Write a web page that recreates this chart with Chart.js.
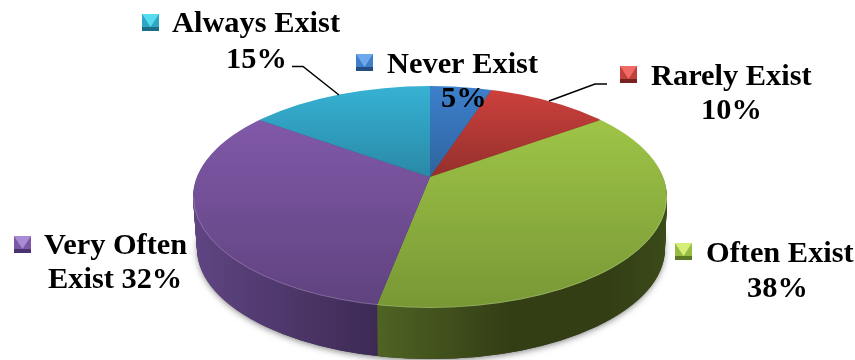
<!DOCTYPE html>
<html>
<head>
<meta charset="utf-8">
<script src="https://cdn.jsdelivr.net/npm/chart.js@4"></script>
<style>
html, body { margin: 0; background: #fff; }
canvas { display: block; }
</style>
</head>
<body>
<canvas id="pie" width="855" height="360"></canvas>
<script>
const categories = ['Never Exist', 'Rarely Exist', 'Often Exist', 'Very Often Exist', 'Always Exist'];
const values = [5, 10, 38, 32, 15];

// top face colours: [light, dark, y of light, y of dark]
const topShades = [
    ['#3d7fcb', '#2f65a1', 88, 172],
    ['#cb403c', '#95302c', 92, 176],
    ['#9ec447', '#789835', 122, 306],
    ['#8059a8', '#60427f', 120, 305],
    ['#36b1d3', '#2a8ba8', 88, 172]
];
// side wall colours, left to right
const wallShades = [
    ['#24507f', '#1c3f66'],
    ['#752622', '#5c1e1a'],
    ['#4f6323', '#333e15', '#3b4b19'],
    ['#5f4582', '#3d2a54'],
    ['#1f6a80', '#185466']
];
const wallRange = [[430, 491], [491, 668], [378, 668], [193, 378], [260, 430]];
const markerColors = [
    ['#6fa8ea', '#3f7fc8', '#234d80'],
    ['#ee6b66', '#c0403c', '#78211e'],
    ['#d4ee78', '#97bb45', '#5c7826'],
    ['#a98ad4', '#7b58a6', '#4b3270'],
    ['#55dcee', '#2fa6c4', '#1a6f86']
];

const cx = 430, apexY = 177, rimY = 197, rimRx = 237, rimRy = 111, squash = 0.46, depth = 52;

function faceTransform(ctx, arc, dy) {
    ctx.translate(cx, apexY + dy);
    ctx.scale(1, squash);
    ctx.translate(-arc.x, -arc.y);
}

const pie3d = {
    id: 'pie3d',
    beforeDatasetsDraw(chart) {
        const ctx = chart.ctx;
        const arcs = chart.getDatasetMeta(0).data;
        const base = arcs.map(a => a.options);

        // soft shadow under the wall
        ctx.save();
        ctx.shadowColor = 'rgba(0,0,0,0.55)';
        ctx.shadowBlur = 7;
        ctx.shadowOffsetY = 1;
        ctx.fillStyle = '#333';
        ctx.beginPath();
        ctx.ellipse(cx + 1, rimY + depth, rimRx - 4, rimRy - 1, 0, 0, Math.PI * 2);
        ctx.fill();
        ctx.restore();

        // side wall, stacked from the bottom up
        const wallFills = wallShades.map((w, i) => {
            const g = ctx.createLinearGradient(wallRange[i][0], 0, wallRange[i][1], 0);
            if (w.length === 3) {
                g.addColorStop(0, w[0]);
                g.addColorStop(0.45, w[1]);
                g.addColorStop(0.8, w[1]);
                g.addColorStop(1, w[2]);
            } else {
                g.addColorStop(0, w[0]);
                g.addColorStop(1, w[1]);
            }
            return g;
        });
        for (let d = depth; d >= 1; d--) {
            const k = d / depth;
            ctx.save();
            ctx.beginPath();
            ctx.ellipse(cx + k, rimY + d, rimRx - 3 * k, rimRy - k, 0, 0, Math.PI * 2);
            ctx.clip();
            arcs.forEach((arc, i) => {
                faceTransformDraw(ctx, arc, d, base[i], wallFills[i]);
            });
            ctx.restore();
        }

        // top face
        ctx.save();
        ctx.beginPath();
        ctx.ellipse(cx, rimY, rimRx, rimRy, 0, 0, Math.PI * 2);
        ctx.clip();
        arcs.forEach((arc, i) => {
            const s = topShades[i];
            const g = ctx.createLinearGradient(0, arc.y + (s[2] - apexY) / squash, 0, arc.y + (s[3] - apexY) / squash);
            g.addColorStop(0, s[0]);
            g.addColorStop(1, s[1]);
            faceTransformDraw(ctx, arc, 0, base[i], g);
        });
        ctx.restore();

        // light edge along the front rim
        ctx.save();
        ctx.strokeStyle = 'rgba(255,255,255,0.2)';
        ctx.lineWidth = 1;
        ctx.beginPath();
        ctx.ellipse(cx, rimY, rimRx - 0.5, rimRy - 0.5, 0, 0, Math.PI);
        ctx.stroke();
        ctx.restore();

        arcs.forEach((arc, i) => { arc.options = base[i]; });
        return false;
    },
    afterDraw(chart) {
        const ctx = chart.ctx;
        // leader lines
        ctx.save();
        ctx.strokeStyle = '#000';
        ctx.lineWidth = 1.5;
        ctx.beginPath();
        ctx.moveTo(292, 66.5); ctx.lineTo(303, 66.5); ctx.lineTo(339, 95);
        ctx.moveTo(607, 84); ctx.lineTo(595, 84); ctx.lineTo(549, 101);
        ctx.stroke();
        ctx.restore();

        labelLayout.forEach((l, i) => {
            drawMarker(ctx, l.marker[0], l.marker[1], markerColors[i]);
            ctx.font = 'bold 30.4px "Liberation Serif"';
            ctx.fillStyle = '#000';
            ctx.textAlign = 'left';
            ctx.textBaseline = 'alphabetic';
            l.lines.forEach(t => ctx.fillText(t[0], t[1], t[2]));
        });
    }
};

function faceTransformDraw(ctx, arc, d, base, fill) {
    ctx.save();
    faceTransform(ctx, arc, d);
    arc.options = Object.assign({}, base, { backgroundColor: fill });
    arc.draw(ctx);
    ctx.restore();
}

function drawMarker(ctx, x, y, c) {
    const size = 17, inset = 4;
    ctx.save();
    ctx.fillStyle = c[1];
    ctx.fillRect(x, y, size, size);
    ctx.fillStyle = c[0];
    ctx.beginPath();
    ctx.moveTo(x, y);
    ctx.lineTo(x + size, y);
    ctx.lineTo(x + size / 2, y + size - inset);
    ctx.closePath();
    ctx.fill();
    ctx.fillStyle = c[2];
    ctx.fillRect(x, y + size - inset, size, inset);
    ctx.restore();
}

const labelLayout = [
    { marker: [356, 54], lines: [[categories[0], 387, 73], [values[0] + '%', 441, 107]] },
    { marker: [620, 66], lines: [[categories[1], 651, 85], [values[1] + '%', 701, 119]] },
    { marker: [675, 243], lines: [[categories[2], 706, 262], [values[2] + '%', 747, 297]] },
    { marker: [14, 236], lines: [['Very Often', 44, 254], ['Exist ' + values[3] + '%', 48, 288]] },
    { marker: [142, 14], lines: [[categories[4], 172, 32], [values[4] + '%', 226, 68]] }
];

new Chart(document.getElementById('pie'), {
    type: 'pie',
    data: {
        labels: categories,
        datasets: [{
            data: values,
            backgroundColor: topShades.map(s => s[0]),
            borderWidth: 0,
            radius: 320
        }]
    },
    options: {
        responsive: false,
        animation: false,
        layout: { padding: { left: 5, bottom: 6 } },
        plugins: { legend: { display: false }, tooltip: { enabled: false } }
    },
    plugins: [pie3d]
});
</script>
</body>
</html>
